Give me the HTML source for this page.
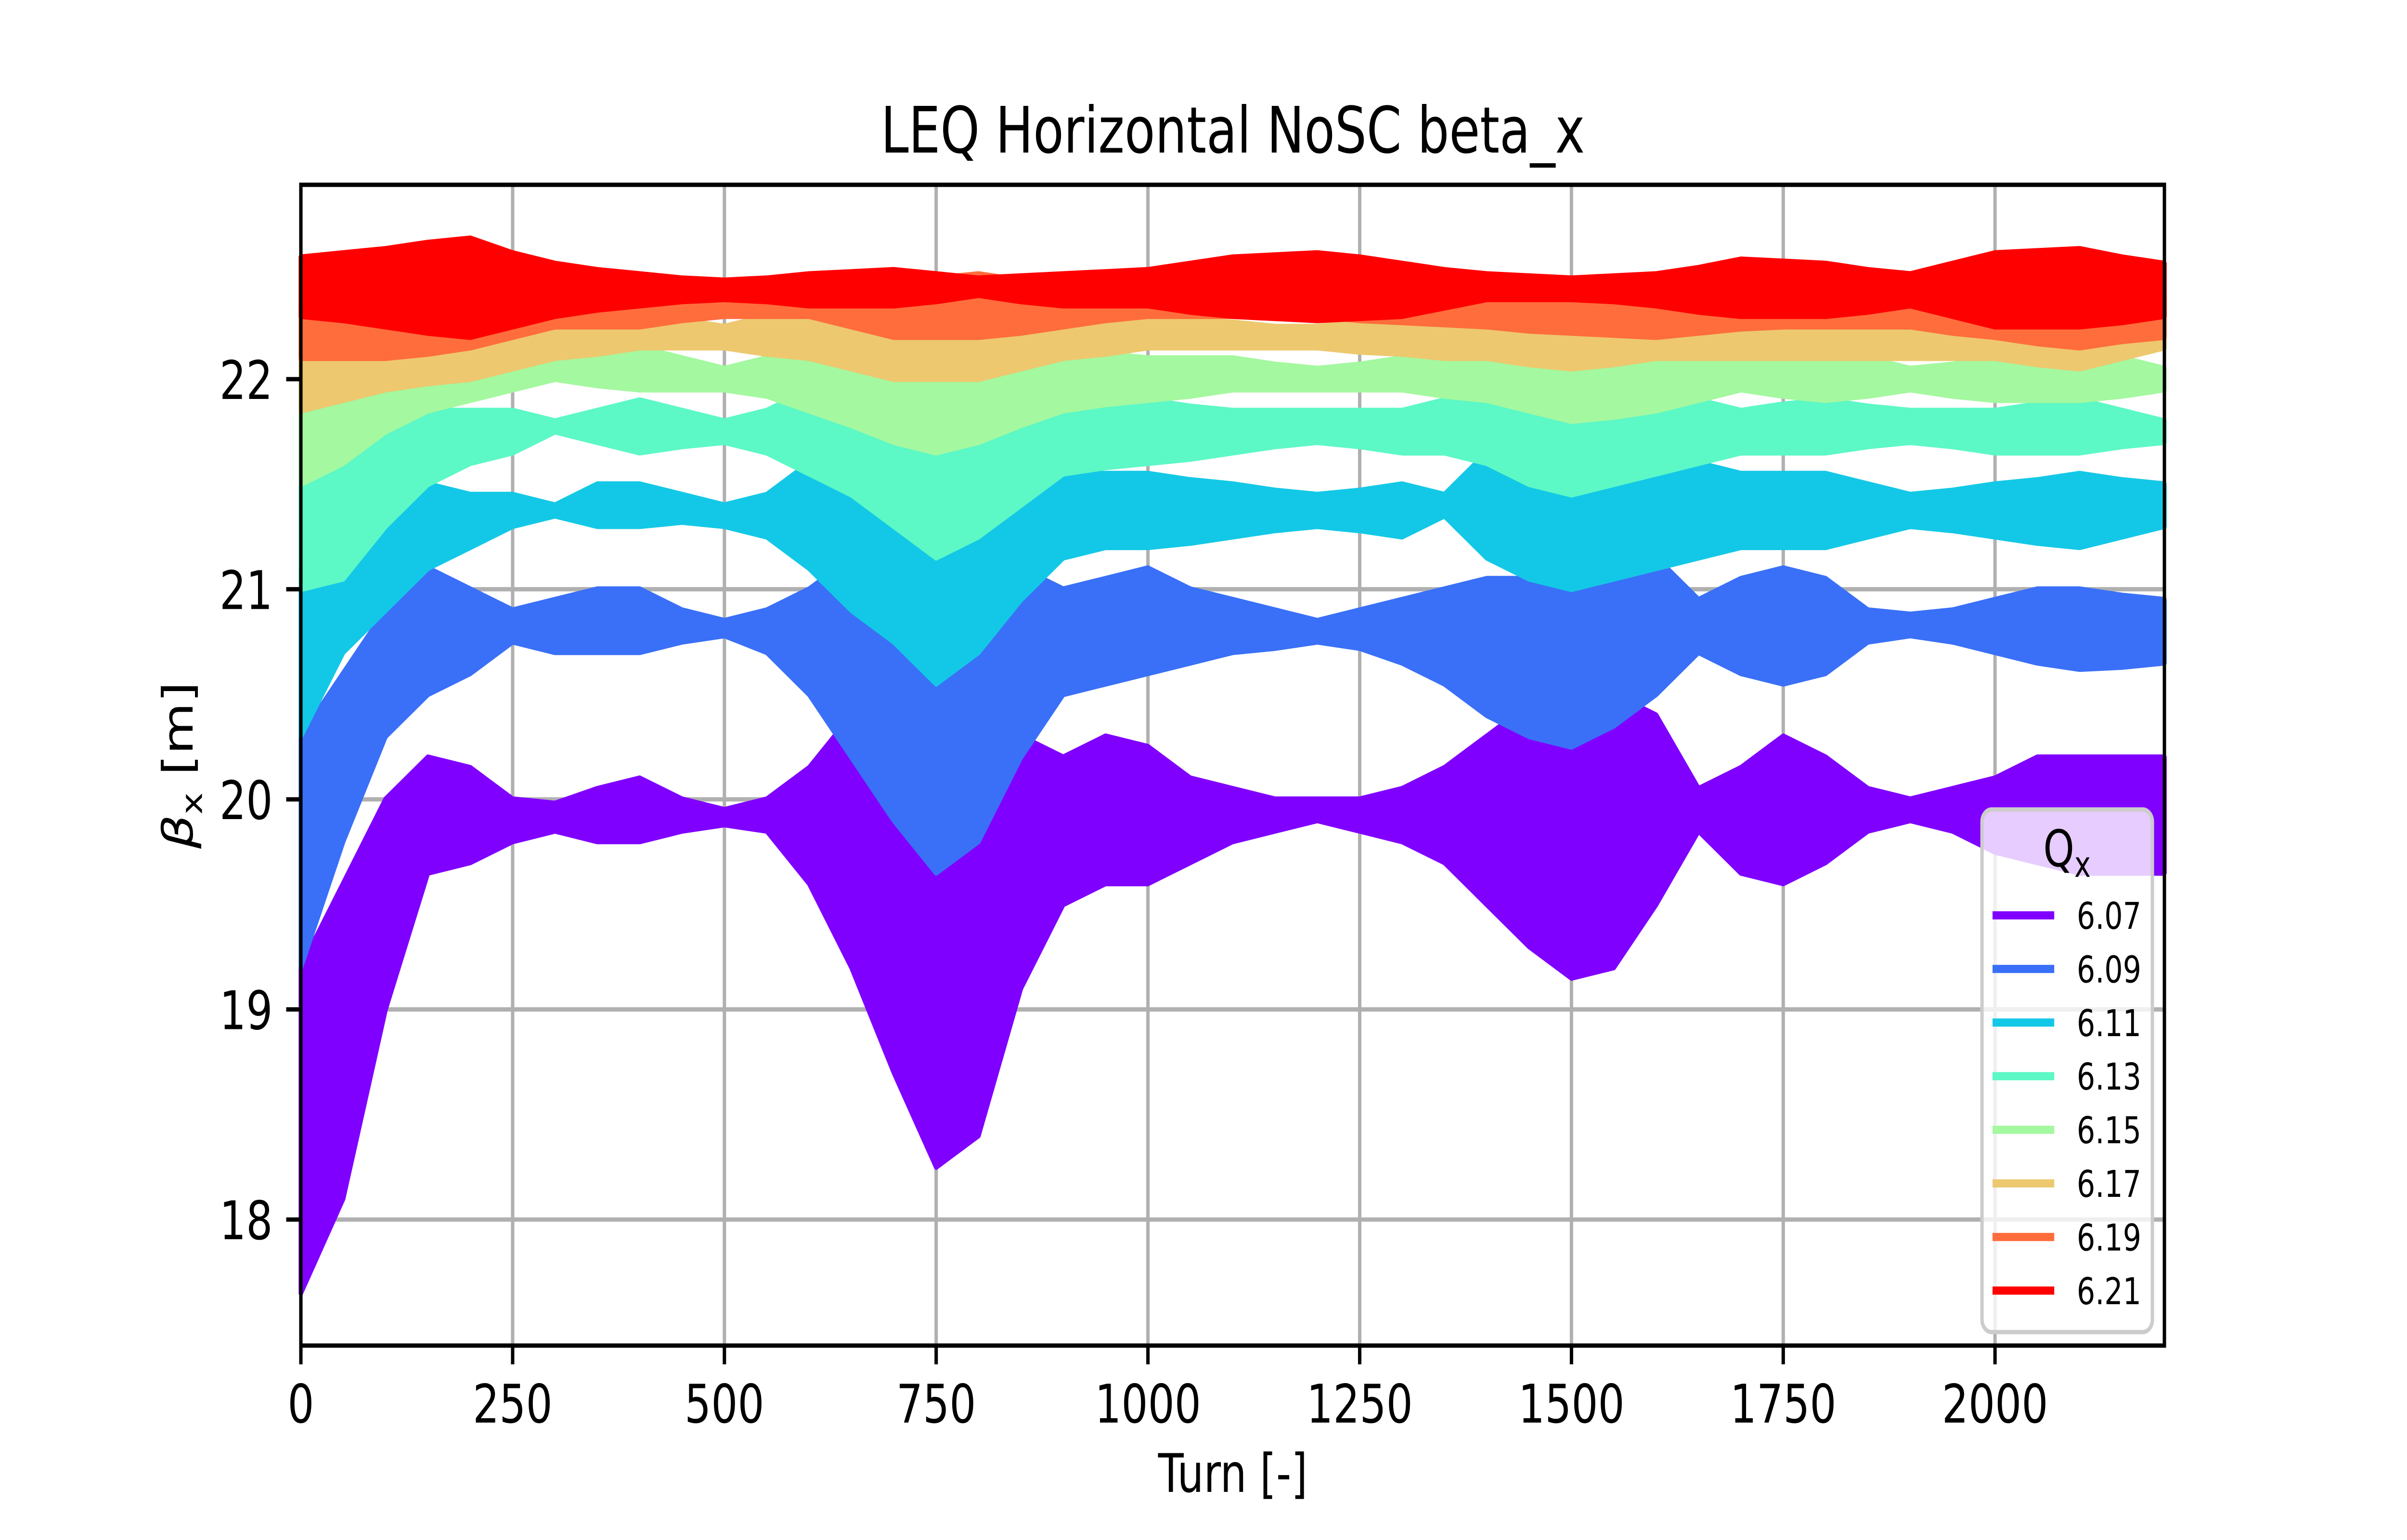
<!DOCTYPE html>
<html><head><meta charset="utf-8"><style>
html,body{margin:0;padding:0;background:#fff;width:100vw;height:100vh;overflow:hidden}
svg{display:block;width:100vw;height:100vh;font-family:"DejaVu Sans","Liberation Sans",sans-serif}
</style></head><body>
<svg id="chart" xmlns="http://www.w3.org/2000/svg" viewBox="0 0 6400 3200" preserveAspectRatio="none">
<rect x="0" y="0" width="6400" height="3200" fill="#fff"/>
<g id="grid"></g>
<g id="series"></g>
<g id="axes"></g>
<text x="3278" y="317" font-size="133" text-anchor="middle">LEQ Horizontal NoSC beta_x</text>
<text x="3278" y="3100" font-size="111" text-anchor="middle">Turn [-]</text>
<text transform="translate(512,1590) rotate(-90)" font-size="111" text-anchor="middle"><tspan font-style="italic">β</tspan><tspan font-size="78" dy="25">x</tspan><tspan dy="-25"> [m]</tspan></text>
<g id="legend"></g>
</svg>
<script>
const turns = [0,50,100,150,200,250,300,350,400,450,500,550,600,650,700,750,800,850,900,950,1000,1050,1100,1150,1200,1250,1300,1350,1400,1450,1500,1550,1600,1650,1700,1750,1800,1850,1900,1950,2000,2050,2100,2150,2200];
const qLabels = ["6.07","6.09","6.11","6.13","6.15","6.17","6.19","6.21"];
const xTicks = [0,250,500,750,1000,1250,1500,1750,2000];
const yTicks = [18,19,20,21,22];
const lo607 = [17.65,18.1,19.0,19.65,19.7,19.8,19.85,19.8,19.8,19.85,19.88,19.85,19.6,19.2,18.7,18.25,18.4,19.1,19.5,19.6,19.6,19.7,19.8,19.85,19.9,19.85,19.8,19.7,19.5,19.3,19.15,19.2,19.5,19.85,19.65,19.6,19.7,19.85,19.9,19.85,19.75,19.7,19.65,19.65,19.65];
const hi607 = [19.2,19.6,20.0,20.2,20.15,20.0,19.98,20.05,20.1,20.0,19.95,20.0,20.15,20.4,20.2,20.0,20.0,20.3,20.2,20.3,20.25,20.1,20.05,20.0,20.0,20.0,20.05,20.15,20.3,20.45,20.5,20.5,20.4,20.05,20.15,20.3,20.2,20.05,20.0,20.05,20.1,20.2,20.2,20.2,20.2];
const lo609 = [19.2,19.8,20.3,20.5,20.6,20.75,20.7,20.7,20.7,20.75,20.78,20.7,20.5,20.2,19.9,19.65,19.8,20.2,20.5,20.55,20.6,20.65,20.7,20.72,20.75,20.72,20.65,20.55,20.4,20.3,20.25,20.35,20.5,20.7,20.6,20.55,20.6,20.75,20.78,20.75,20.7,20.65,20.62,20.63,20.65];
const hi609 = [20.3,20.6,20.9,21.1,21.0,20.9,20.95,21.0,21.0,20.9,20.85,20.9,21.0,21.15,21.1,20.9,21.0,21.1,21.0,21.05,21.1,21.0,20.95,20.9,20.85,20.9,20.95,21.0,21.05,21.05,21.05,21.1,21.15,20.95,21.05,21.1,21.05,20.9,20.88,20.9,20.95,21.0,21.0,20.97,20.95];
const lo611 = [20.3,20.7,20.9,21.1,21.2,21.3,21.35,21.3,21.3,21.32,21.3,21.25,21.1,20.9,20.75,20.55,20.7,20.95,21.15,21.2,21.2,21.22,21.25,21.28,21.3,21.28,21.25,21.35,21.15,21.05,21.0,21.05,21.1,21.15,21.2,21.2,21.2,21.25,21.3,21.28,21.25,21.22,21.2,21.25,21.3];
const hi611 = [21.1,21.2,21.35,21.5,21.45,21.45,21.4,21.5,21.5,21.45,21.4,21.45,21.6,21.7,21.7,21.6,21.65,21.65,21.55,21.55,21.55,21.52,21.5,21.47,21.45,21.47,21.5,21.45,21.65,21.7,21.7,21.7,21.65,21.6,21.55,21.55,21.55,21.5,21.45,21.47,21.5,21.52,21.55,21.52,21.5];
const lo613 = [21.0,21.05,21.3,21.5,21.6,21.65,21.75,21.7,21.65,21.68,21.7,21.65,21.55,21.45,21.3,21.15,21.25,21.4,21.55,21.58,21.6,21.62,21.65,21.68,21.7,21.68,21.65,21.65,21.6,21.5,21.45,21.5,21.55,21.6,21.65,21.65,21.65,21.68,21.7,21.68,21.65,21.65,21.65,21.68,21.7];
const hi613 = [21.5,21.6,21.75,21.85,21.85,21.85,21.8,21.85,21.9,21.85,21.8,21.85,21.95,22.0,22.0,21.95,22.0,22.0,21.95,21.92,21.9,21.87,21.85,21.85,21.85,21.85,21.85,21.9,21.95,22.0,22.0,22.0,21.95,21.9,21.85,21.88,21.9,21.87,21.85,21.85,21.85,21.88,21.9,21.85,21.8];
const lo615 = [21.5,21.6,21.75,21.85,21.9,21.95,22.0,21.97,21.95,21.95,21.95,21.92,21.85,21.78,21.7,21.65,21.7,21.78,21.85,21.88,21.9,21.92,21.95,21.95,21.95,21.95,21.95,21.92,21.9,21.85,21.8,21.82,21.85,21.9,21.95,21.92,21.9,21.92,21.95,21.92,21.9,21.9,21.9,21.92,21.95];
const hi615 = [21.9,21.95,22.05,22.08,22.1,22.1,22.1,22.12,22.15,22.1,22.05,22.1,22.15,22.18,22.2,22.2,22.2,22.18,22.15,22.12,22.1,22.1,22.1,22.07,22.05,22.07,22.1,22.12,22.15,22.18,22.2,22.18,22.15,22.12,22.1,22.12,22.15,22.1,22.05,22.07,22.1,22.12,22.15,22.1,22.05];
const lo617 = [21.85,21.9,21.95,21.98,22.0,22.05,22.1,22.12,22.15,22.15,22.15,22.12,22.1,22.05,22.0,22.0,22.0,22.05,22.1,22.12,22.15,22.15,22.15,22.15,22.15,22.13,22.12,22.1,22.1,22.07,22.05,22.07,22.1,22.1,22.1,22.1,22.1,22.1,22.1,22.1,22.1,22.07,22.05,22.1,22.15];
const hi617 = [22.15,22.2,22.2,22.22,22.25,22.28,22.3,22.3,22.3,22.28,22.25,22.3,22.35,22.35,22.35,22.35,22.35,22.32,22.3,22.3,22.3,22.28,22.27,22.25,22.25,22.27,22.28,22.3,22.3,22.32,22.35,22.33,22.3,22.3,22.3,22.3,22.3,22.3,22.3,22.3,22.3,22.3,22.3,22.3,22.3];
const lo619 = [22.1,22.1,22.1,22.12,22.15,22.2,22.25,22.25,22.25,22.28,22.3,22.3,22.3,22.25,22.2,22.2,22.2,22.22,22.25,22.28,22.3,22.3,22.3,22.3,22.3,22.28,22.27,22.26,22.25,22.23,22.22,22.21,22.2,22.22,22.24,22.25,22.25,22.25,22.25,22.22,22.2,22.17,22.15,22.18,22.2];
const hi619 = [22.35,22.37,22.4,22.42,22.45,22.45,22.45,22.45,22.45,22.42,22.4,22.42,22.45,22.45,22.45,22.48,22.5,22.47,22.45,22.45,22.45,22.43,22.42,22.41,22.4,22.42,22.43,22.44,22.45,22.45,22.45,22.45,22.45,22.45,22.45,22.45,22.45,22.45,22.45,22.45,22.45,22.45,22.45,22.42,22.4];
const lo621 = [22.3,22.28,22.25,22.22,22.2,22.25,22.3,22.33,22.35,22.37,22.38,22.37,22.35,22.35,22.35,22.37,22.4,22.37,22.35,22.35,22.35,22.32,22.3,22.29,22.28,22.29,22.3,22.34,22.38,22.38,22.38,22.37,22.35,22.32,22.3,22.3,22.3,22.32,22.35,22.3,22.25,22.25,22.25,22.27,22.3];
const hi621 = [22.58,22.6,22.62,22.65,22.67,22.6,22.55,22.52,22.5,22.48,22.47,22.48,22.5,22.51,22.52,22.5,22.48,22.49,22.5,22.51,22.52,22.55,22.58,22.59,22.6,22.58,22.55,22.52,22.5,22.49,22.48,22.49,22.5,22.53,22.57,22.56,22.55,22.52,22.5,22.55,22.6,22.61,22.62,22.58,22.55];

const NS = "http://www.w3.org/2000/svg";
const X0 = 800, X1 = 5755, Y0 = 384, Y1 = 2796;
const XMIN = 0, XMAX = 2200, YMIN = 17.4, YMAX = 22.925;
const xs = v => X0 + (v - XMIN) / (XMAX - XMIN) * (X1 - X0);
const ys = v => Y1 - (v - YMIN) / (YMAX - YMIN) * (Y1 - Y0);
const colors = ["#8000ff","#3a70f8","#13c8e6","#5cf8c6","#a4f89f","#edc86f","#ff6d3c","#ff0000"];
const los = [lo607,lo609,lo611,lo613,lo615,lo617,lo619,lo621];
const his = [hi607,hi609,hi611,hi613,hi615,hi617,hi619,hi621];
function mk(tag, attrs, parent){ const e = document.createElementNS(NS, tag); for (const k in attrs) e.setAttribute(k, attrs[k]); parent.appendChild(e); return e; }

const grid = document.getElementById('grid');
const axes = document.getElementById('axes');
xTicks.forEach(t => {
  const g = mk('line', {x1: xs(t), x2: xs(t), y1: Y0, y2: Y1, stroke: '#b0b0b0', 'stroke-width': 9}, grid);
  
  
  const tk = mk('line', {x1: xs(t), x2: xs(t), y1: Y1, y2: Y1 + 39, stroke: '#000', 'stroke-width': 9}, axes);
  
  
  const lb = mk('text', {x: xs(t), y: Y1 + 160, 'font-size': 111, 'text-anchor': 'middle'}, axes);
  lb.textContent = String(t);
  
  
});
yTicks.forEach(t => {
  const g = mk('line', {x1: X0, x2: X1, y1: ys(t), y2: ys(t), stroke: '#b0b0b0', 'stroke-width': 9}, grid);
  
  
  const tk = mk('line', {x1: X0 - 39, x2: X0, y1: ys(t), y2: ys(t), stroke: '#000', 'stroke-width': 9}, axes);
  
  
  const lb = mk('text', {x: X0 - 75, y: ys(t) + 41, 'font-size': 111, 'text-anchor': 'end'}, axes);
  lb.textContent = String(t);
  
  
});
const frame = mk('rect', {x: X0, y: Y0, width: X1 - X0, height: Y1 - Y0, fill: 'none', stroke: '#000', 'stroke-width': 9}, axes);



const series = document.getElementById('series');
los.forEach((lo, i) => {
  const hi = his[i];
  let d = '';
  turns.forEach((t, j) => { d += (j ? 'L' : 'M') + xs(t).toFixed(1) + ',' + ys(hi[j]).toFixed(1); });
  for (let j = turns.length - 1; j >= 0; j--) d += 'L' + xs(turns[j]).toFixed(1) + ',' + ys(lo[j]).toFixed(1);
  d += 'Z';
  const p = mk('path', {d: d, fill: colors[i], stroke: colors[i], 'stroke-width': 12, 'stroke-linejoin': 'round'}, series);
  
  
});

const leg = document.getElementById('legend');
const box = mk('rect', {x: 5270, y: 1682, width: 453, height: 1086, rx: 26, fill: 'rgba(255,255,255,0.8)', stroke: '#cccccc', 'stroke-width': 9}, leg);


const lt = mk('text', {x: 5496, y: 1800, 'font-size': 105, 'text-anchor': 'middle'}, leg);
lt.innerHTML = 'Q<tspan font-size="74" dy="22">x</tspan>';


qLabels.forEach((q, i) => {
  const y = 1902 + i * 111.4;
  const ln = mk('line', {x1: 5298, x2: 5462, y1: y, y2: y, stroke: colors[i], 'stroke-width': 17}, leg);
  
  
  const tx = mk('text', {x: 5522, y: y + 28, 'font-size': 77}, leg);
  tx.textContent = q;
  
  
});
</script>
</body></html>
